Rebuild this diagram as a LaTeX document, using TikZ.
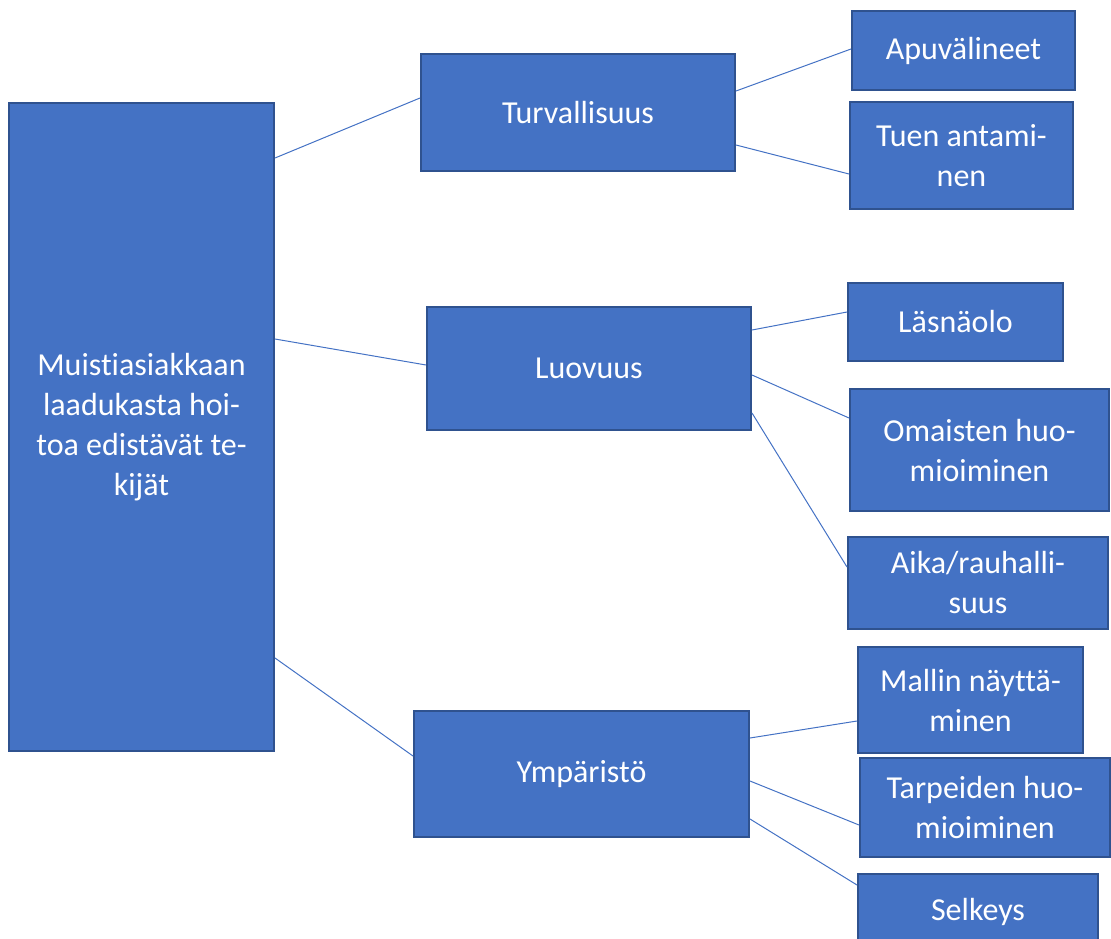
\documentclass[tikz,border=0pt]{standalone}
\usepackage{fontspec}
\setmainfont{Carlito}[Ligatures=NoCommon]
\definecolor{boxfill}{HTML}{4472C4}
\definecolor{boxline}{HTML}{2F528F}
\begin{document}
\begin{tikzpicture}[x=0.75pt,y=-0.75pt,
  box/.style={rectangle, fill=boxfill, draw=boxline, line width=1.5pt, text=white,
    align=center, inner sep=0pt, font=\fontsize{24}{30}\selectfont},
  link/.style={draw=boxfill, line width=0.75pt}]
\useasboundingbox (0,0) rectangle (1111,939);
\clip (0,0) rectangle (1111,939);
\node[box, minimum width=198.75pt, minimum height=486pt] (main) at (141.5,427)
  {Muistiasiakkaan\\laadukasta hoi-\\toa edistävät te-\\kijät};
\node[box, minimum width=235.5pt, minimum height=87.75pt] (turv) at (578,112.5) {Turvallisuus};
\node[box, minimum width=243pt, minimum height=92.25pt] (luov) at (589,368.5) {Luovuus};
\node[box, minimum width=251.25pt, minimum height=94.5pt] (ymp) at (581.5,774) {Ympäristö};
\node[box, minimum width=167.25pt, minimum height=59.25pt] (apu) at (963.5,50.5) {Apuvälineet};
\node[box, minimum width=167.25pt, minimum height=80.25pt] (tuen) at (961.5,155.5) {Tuen antami-\\nen};
\node[box, minimum width=161.25pt, minimum height=58.5pt] (las) at (955.5,322) {Läsnäolo};
\node[box, minimum width=194.25pt, minimum height=91.5pt] (oma) at (979.5,450) {Omaisten huo-\\mioiminen};
\node[box, minimum width=195pt, minimum height=69pt] (aika) at (978,583) {Aika/rauhalli-\\suus};
\node[box, minimum width=168.75pt, minimum height=79.5pt] (mal) at (970.5,700) {Mallin näyttä-\\minen};
\node[box, minimum width=187.5pt, minimum height=74.25pt] (tar) at (985,807.5) {Tarpeiden huo-\\mioiminen};
\node[box, minimum width=180pt, minimum height=57pt] (sel) at (978,912) {Selkeys};
\path[link] ([yshift=-42pt]main.north east) -- ([yshift=-33.75pt]turv.north west);
\path[link] ([yshift=-177.75pt]main.north east) -- ([yshift=-44.25pt]luov.north west);
\path[link] ([yshift=-417pt]main.north east) -- ([yshift=-34.5pt]ymp.north west);
\path[link] ([yshift=-28.5pt]turv.north east) -- ([yshift=-29.25pt]apu.north west);
\path[link] ([yshift=-69pt]turv.north east) -- ([yshift=-54.75pt]tuen.north west);
\path[link] ([yshift=-18pt]luov.north east) -- ([yshift=-22.5pt]las.north west);
\path[link] ([yshift=-51.75pt]luov.north east) -- ([yshift=-22.5pt]oma.north west);
\path[link] ([yshift=-80.25pt]luov.north east) -- ([yshift=-23.25pt]aika.north west);
\path[link] ([yshift=-21pt]ymp.north east) -- ([yshift=-56.25pt]mal.north west);
\path[link] ([yshift=-53.25pt]ymp.north east) -- ([yshift=-51pt]tar.north west);
\path[link] ([yshift=-81.75pt]ymp.north east) -- ([yshift=-9pt]sel.north west);
\end{tikzpicture}
\end{document}
